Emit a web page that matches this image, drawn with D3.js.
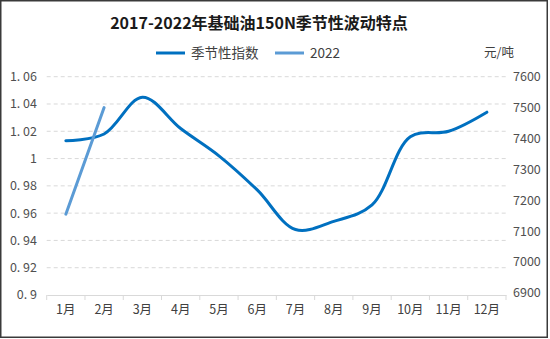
<!DOCTYPE html>
<html><head><meta charset="utf-8">
<script src="https://cdn.jsdelivr.net/npm/d3@7"></script>
<style>body{margin:0;background:#fff}svg{display:block}</style>
</head><body>
<svg id="c" width="550" height="339"></svg>
<script>
const months = ["1月","2月","3月","4月","5月","6月","7月","8月","9月","10月","11月","12月"];
const seasonalIndex = [1.013,1.018,1.045,1.022,1.002,0.977,0.948,0.954,0.966,1.016,1.020,1.034];
const months2022 = ["1月","2月"];
const price2022 = [7155,7500];
const leftTicks = [0.9,0.92,0.94,0.96,0.98,1,1.02,1.04,1.06];
const rightTicks = [6900,7000,7100,7200,7300,7400,7500,7600];
const title = "2017-2022年基础油150N季节性波动特点";
const seriesNames = ["季节性指数","2022"];
const unit = "元/吨";

const svg = d3.select("#c");
const m={l:46.7,r:506,t:76.7,b:295};
const font="'Noto Sans CJK SC','DejaVu Sans',sans-serif";
svg.append("rect").attr("x",0.75).attr("y",0.75).attr("width",546.5).attr("height",336.5)
  .attr("fill","#fff").attr("stroke","#3a3a3a").attr("stroke-width",1.5);

const x=d3.scaleBand().domain(months).range([m.l,m.r]);
const yL=d3.scaleLinear().domain([0.9,1.06]).range([m.b,m.t]);
const yR=d3.scaleLinear().domain([6900,7600]).range([293,m.t]);

// grid
svg.append("g").selectAll("line").data(leftTicks.filter(d=>d>0.9)).join("line")
  .attr("x1",m.l).attr("x2",m.r).attr("y1",d=>yL(d)).attr("y2",d=>yL(d))
  .attr("stroke","#d9d9d9").attr("stroke-width",1).attr("stroke-dasharray","4,3");

// left axis labels
svg.append("g").selectAll("text").data(leftTicks).join("text")
  .attr("x",37).attr("y",d=>yL(d)).attr("dy","0.35em").attr("text-anchor","end")
  .attr("font-family",font).attr("font-size",12.5).attr("fill","#505050")
  .text(d=>String(+d.toFixed(2)).replace(".",". "));

// right axis labels
svg.append("g").selectAll("text").data(rightTicks).join("text")
  .attr("x",513).attr("y",d=>yR(d)).attr("dy","0.35em").attr("text-anchor","start")
  .attr("font-family",font).attr("font-size",12.5).attr("fill","#505050")
  .text(d=>d);

// x axis
const xa=svg.append("g").attr("transform",`translate(0,${m.b})`)
  .call(d3.axisBottom(x).tickSize(0).tickPadding(10));
xa.select(".domain").attr("stroke","#d9d9d9");
xa.selectAll("text").attr("font-family",font).attr("font-size",12.5).attr("fill","#404040");
const bounds=months.map(d=>x(d)).concat([m.r]);
svg.append("g").selectAll("line").data(bounds).join("line")
  .attr("x1",d=>d).attr("x2",d=>d).attr("y1",m.b).attr("y2",m.b+5)
  .attr("stroke","#d9d9d9");

// lines
const cx=d=>x(d)+x.bandwidth()/2;
const line1=d3.line().x((d,i)=>cx(months[i])).y(d=>yL(d)).curve(d3.curveCatmullRom.alpha(0.5));
svg.append("path").attr("d",line1(seasonalIndex)).attr("fill","none")
  .attr("stroke","#0070c0").attr("stroke-width",3).attr("stroke-linecap","round");
const line2=d3.line().x((d,i)=>cx(months2022[i])).y(d=>yR(d));
svg.append("path").attr("d",line2(price2022)).attr("fill","none")
  .attr("stroke","#5b9bd5").attr("stroke-width",3).attr("stroke-linecap","round");

// title
svg.append("text").attr("x",259).attr("y",29).attr("text-anchor","middle")
  .attr("font-family",font).attr("font-size",16).attr("font-weight","bold").attr("fill","#1a1a1a")
  .text(title);

// legend
const lg=[{x:156,c:"#0070c0",t:seriesNames[0]},{x:275,c:"#5b9bd5",t:seriesNames[1]}];
lg.forEach(o=>{
  svg.append("line").attr("x1",o.x).attr("x2",o.x+29).attr("y1",53).attr("y2",53)
    .attr("stroke",o.c).attr("stroke-width",3);
  svg.append("text").attr("x",o.x+35).attr("y",53).attr("dy","0.35em")
    .attr("font-family",font).attr("font-size",13.5).attr("fill","#404040").text(o.t);
});
svg.append("text").attr("x",514).attr("y",53).attr("dy","0.35em").attr("text-anchor","end")
  .attr("font-family",font).attr("font-size",12.5).attr("fill","#404040").text(unit);
</script>
</body></html>
